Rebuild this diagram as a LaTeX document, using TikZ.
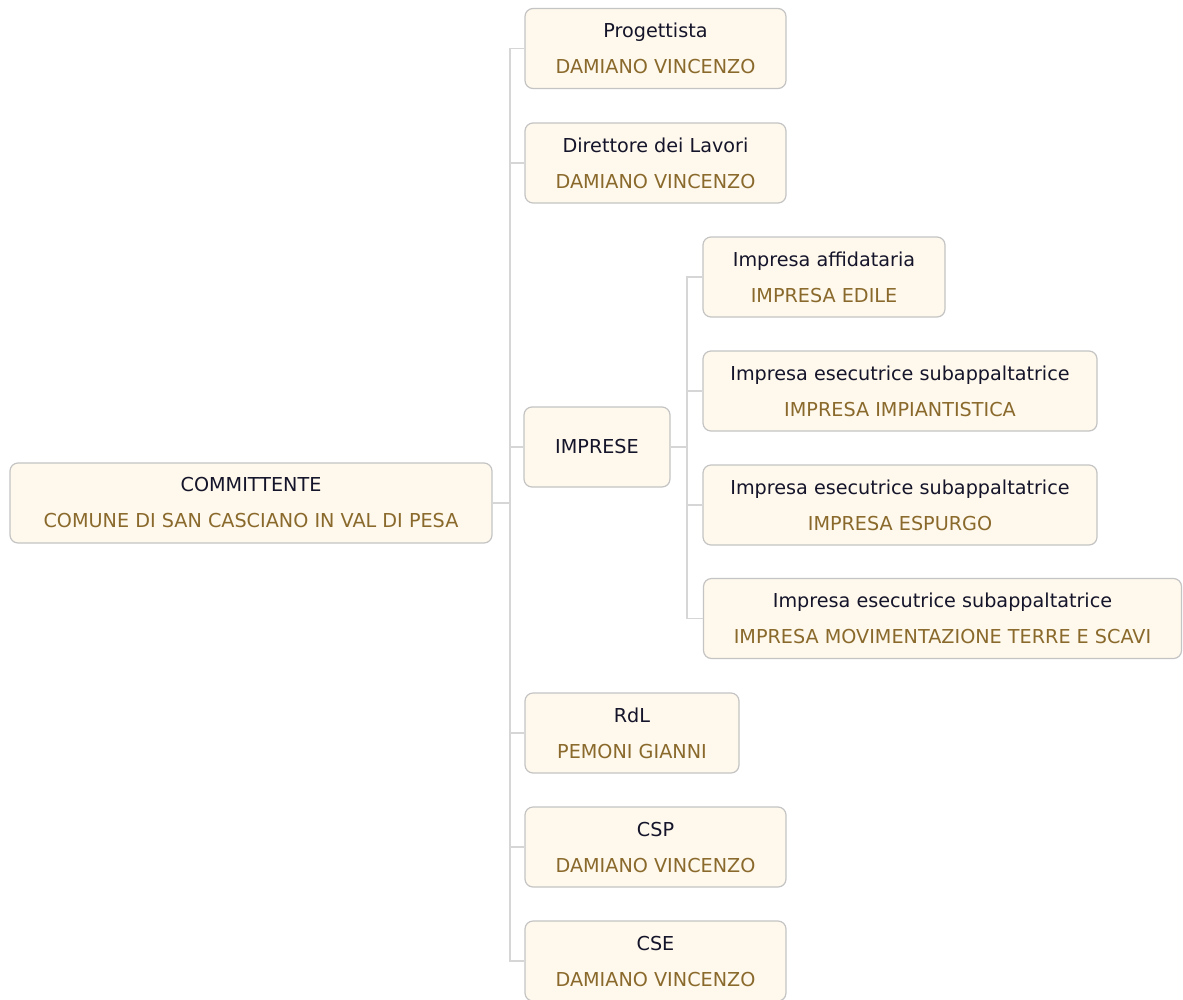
\documentclass[tikz,border=0pt]{standalone}
\usepackage{fontspec}
\setmainfont{DejaVu Sans}
\definecolor{boxfill}{HTML}{FFF8EC}
\definecolor{boxline}{HTML}{C4C4C4}
\definecolor{conn}{HTML}{D6D6D6}
\definecolor{ttl}{HTML}{14142A}
\definecolor{sub}{HTML}{8A6A2C}
\tikzset{
  box/.style={draw=boxline, fill=boxfill, rounded corners=8pt, line width=1.2pt,
    align=center, inner sep=0pt, minimum height=80pt,
    font=\fontsize{19.2}{36}\selectfont, text=ttl},
  wire/.style={draw=conn, line width=1.8pt}
}
\newcommand{\two}[2]{#1\\\textcolor{sub}{#2}}
\begin{document}
\begin{tikzpicture}[x=1pt,y=-1pt]
\useasboundingbox (0,0) rectangle (1183,999);
\fill[white] (0,0) rectangle (1183,999);
\coordinate (tr) at (510,0);
\coordinate (tr2) at (687,0);
\node[box, minimum width=482pt] (com) at (251,503) {\two{COMMITTENTE}{COMUNE DI SAN CASCIANO IN VAL DI PESA}};
\node[box, minimum width=261pt] (prog) at (655.5,48.5) {\two{Progettista}{DAMIANO VINCENZO}};
\node[box, minimum width=261pt] (dir) at (655.5,163) {\two{Direttore dei Lavori}{DAMIANO VINCENZO}};
\node[box, minimum width=146pt] (imp) at (597,447) {IMPRESE};
\node[box, minimum width=242pt] (aff) at (824,277) {\two{Impresa affidataria}{IMPRESA EDILE}};
\node[box, minimum width=394pt] (es1) at (900,391) {\two{Impresa esecutrice subappaltatrice}{IMPRESA IMPIANTISTICA}};
\node[box, minimum width=394pt] (es2) at (900,505) {\two{Impresa esecutrice subappaltatrice}{IMPRESA ESPURGO}};
\node[box, minimum width=478pt] (es3) at (942.5,618.5) {\two{Impresa esecutrice subappaltatrice}{IMPRESA MOVIMENTAZIONE TERRE E SCAVI}};
\node[box, minimum width=214pt] (rdl) at (632,733) {\two{RdL}{PEMONI GIANNI}};
\node[box, minimum width=261pt] (csp) at (655.5,847) {\two{CSP}{DAMIANO VINCENZO}};
\node[box, minimum width=261pt] (cse) at (655.5,961) {\two{CSE}{DAMIANO VINCENZO}};
\draw[wire] (com.east) -- (com.east -| tr);
\draw[wire] (prog.west) -- (prog.west -| tr) -- (cse.west -| tr) -- (cse.west);
\draw[wire] (dir.west -| tr) -- (dir.west);
\draw[wire] (imp.west -| tr) -- (imp.west);
\draw[wire] (rdl.west -| tr) -- (rdl.west);
\draw[wire] (csp.west -| tr) -- (csp.west);
\draw[wire] (imp.east) -- (imp.east -| tr2);
\draw[wire] (aff.west) -- (aff.west -| tr2) -- (es3.west -| tr2) -- (es3.west);
\draw[wire] (es1.west -| tr2) -- (es1.west);
\draw[wire] (es2.west -| tr2) -- (es2.west);
\end{tikzpicture}
\end{document}
